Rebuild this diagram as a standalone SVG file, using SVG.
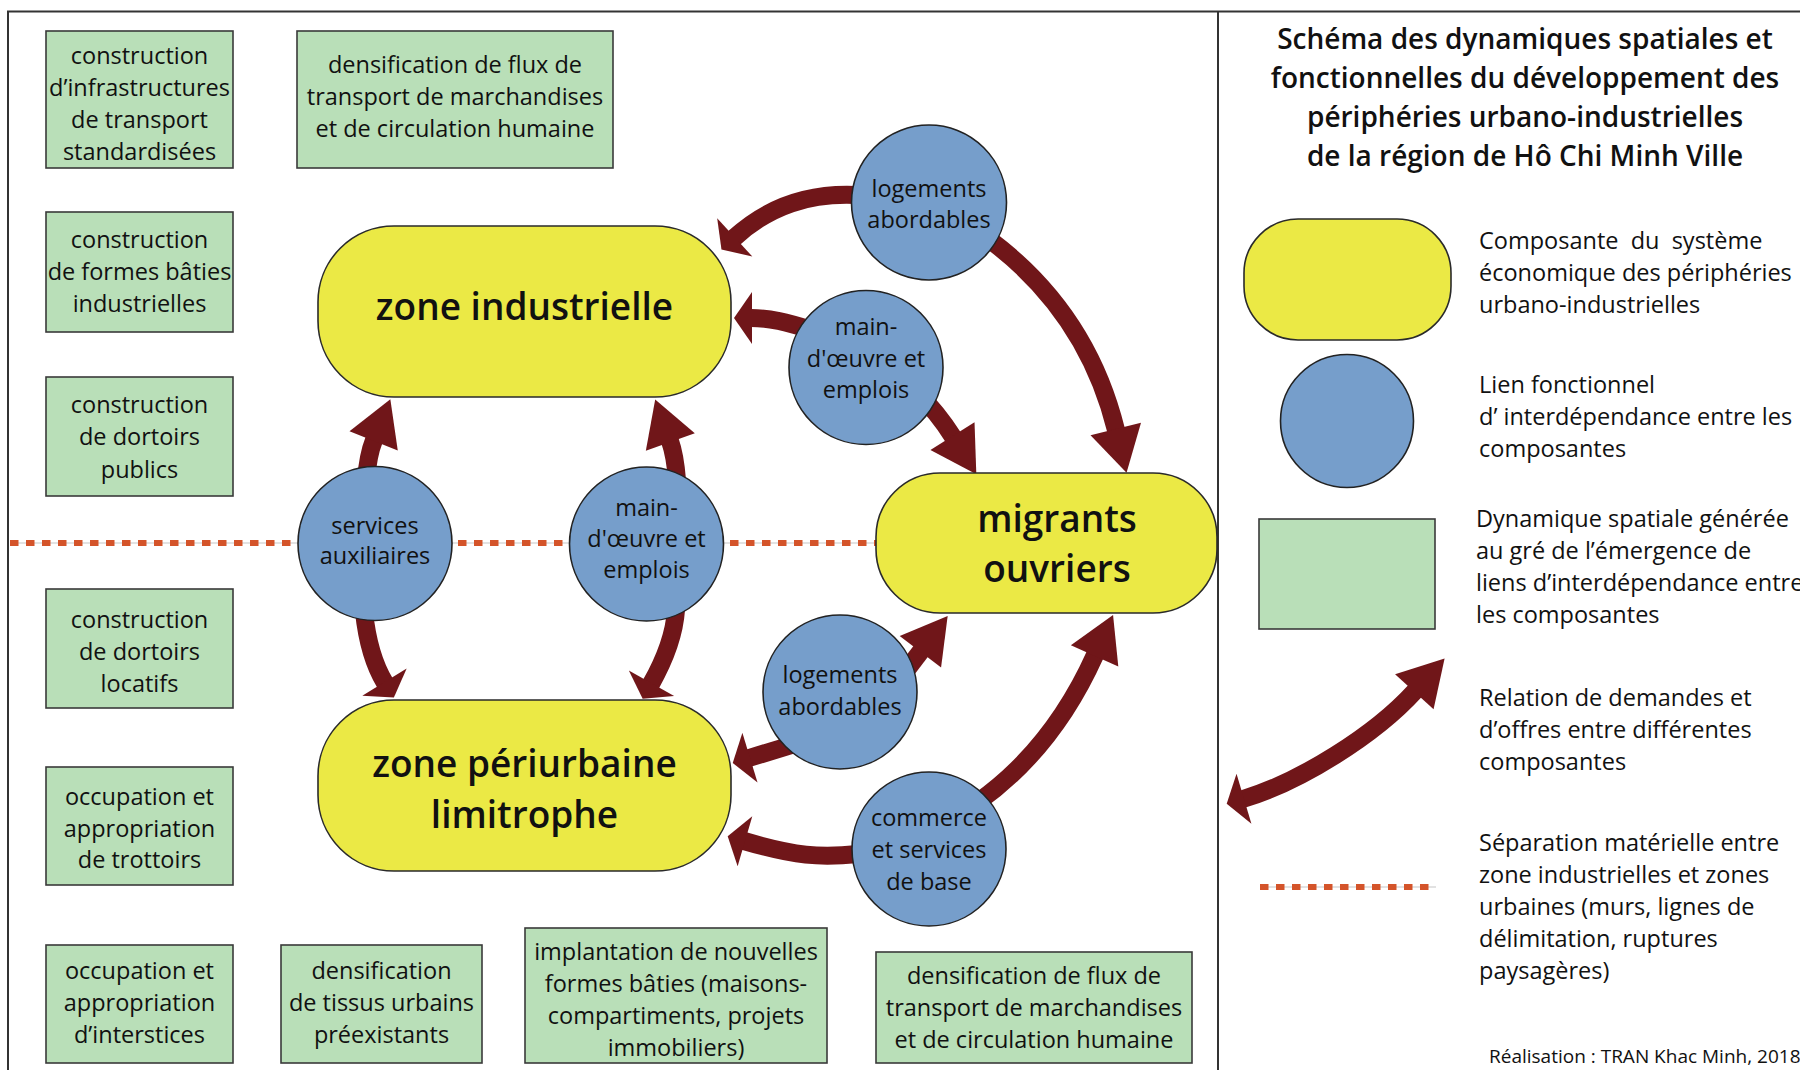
<svg xmlns="http://www.w3.org/2000/svg" width="1800" height="1070" viewBox="0 0 1800 1070">
<style>
.t{font-family:"Open Sans","Noto Sans","Liberation Sans",sans-serif;font-size:23.5px;fill:#111;text-anchor:middle}
.big{font-weight:600;font-size:37px}
.title{font-weight:600;font-size:28px}
.leg{text-anchor:start}
.box{fill:#b9dfb8;stroke:#3a3a3a;stroke-width:1.6}
.zone{fill:#ebe945;stroke:#2a2a2a;stroke-width:1.6}
.link{fill:#769ecb;stroke:#222;stroke-width:1.6}
.arr{fill:none;stroke:#701619;stroke-width:18}
.sepbg{stroke:#e2e2e2;stroke-width:2}
.sep{stroke:#d4542a;stroke-width:6;stroke-dasharray:8.5 7.5}
.frame{stroke:#333;stroke-width:2;fill:none}
</style>
<defs>
<marker id="hl" markerUnits="userSpaceOnUse" markerWidth="50" markerHeight="56" refX="1" refY="26" orient="auto" overflow="visible"><path d="M0,0 L45,26 L0,52 Z" fill="#701619"/></marker>
<marker id="hs" markerUnits="userSpaceOnUse" markerWidth="22" markerHeight="56" refX="1" refY="26" orient="auto" overflow="visible"><path d="M0,0 L18,26 L0,52 Z" fill="#701619"/></marker>
<marker id="hsr" markerUnits="userSpaceOnUse" markerWidth="22" markerHeight="56" refX="1" refY="26" orient="auto-start-reverse" overflow="visible"><path d="M0,0 L18,26 L0,52 Z" fill="#701619"/></marker>
</defs>
<rect width="1800" height="1070" fill="#fff"/>
<g id="frame">
<path class="frame" d="M8,1070 L8,11.5 L1800,11.5"/>
<path class="frame" d="M1218,11.5 L1218,1070"/>
</g>
<g id="separation">
<line class="sepbg" x1="10" y1="543" x2="876" y2="543"/>
<line class="sep" x1="10" y1="543" x2="876" y2="543"/>
</g>
<g id="connectors">
<path class="arr" d="M856,195 C810,193 770,205 734,238" marker-end="url(#hs)"/>
<path class="arr" d="M812,330 C786,322 770,318 751,318" marker-end="url(#hs)"/>
<path class="arr" d="M990,240 C1050,285 1095,345 1116,430" marker-end="url(#hl)"/>
<path class="arr" d="M915,390 Q938,413 953,437" marker-end="url(#hl)"/>
<path class="arr" d="M366,480 Q368,455 374,440" marker-end="url(#hl)"/>
<path class="arr" d="M677,480 Q675,455 670,441" marker-end="url(#hl)"/>
<path class="arr" d="M364,612 C367,640 374,665 385,683" marker-end="url(#hs)"/>
<path class="arr" d="M676,610 C674,640 660,668 651,684" marker-end="url(#hs)"/>
<path class="arr" d="M905,672 L921,651" marker-end="url(#hl)"/>
<path class="arr" d="M795,744 L749,758" marker-end="url(#hs)"/>
<path class="arr" d="M858,854 C820,858 795,856 744,841" marker-end="url(#hs)"/>
<path class="arr" d="M978,802 C1030,765 1068,715 1095,655" marker-end="url(#hl)"/>
</g>
<g id="zone-industrielle">
<rect class="zone" x="318" y="226" width="413" height="171" rx="76" ry="76"/>
<text class="t big" x="524.5" y="320">zone industrielle</text>
</g>
<g id="zone-periurbaine">
<rect class="zone" x="318" y="700" width="413" height="171" rx="76" ry="76"/>
<text class="t big"><tspan x="524.5" y="777">zone périurbaine</tspan><tspan x="524.5" y="828">limitrophe</tspan></text>
</g>
<g id="migrants-ouvriers">
<rect class="zone" x="876" y="473" width="341" height="140" rx="64" ry="64"/>
<text class="t big"><tspan x="1057" y="532">migrants</tspan><tspan x="1057" y="582">ouvriers</tspan></text>
</g>
<g id="logements-haut">
<circle class="link" cx="929" cy="202.5" r="77.5"/>
<text class="t"><tspan x="929" y="197">logements</tspan><tspan x="929" y="228">abordables</tspan></text>
</g>
<g id="main-oeuvre-haut">
<circle class="link" cx="866" cy="367.5" r="77"/>
<text class="t"><tspan x="866" y="335">main-</tspan><tspan x="866" y="367">d'œuvre et</tspan><tspan x="866" y="398">emplois</tspan></text>
</g>
<g id="services-auxiliaires">
<circle class="link" cx="375" cy="543.5" r="77"/>
<text class="t"><tspan x="375" y="534">services</tspan><tspan x="375" y="564">auxiliaires</tspan></text>
</g>
<g id="main-oeuvre-milieu">
<circle class="link" cx="646.5" cy="544" r="77"/>
<text class="t"><tspan x="646.5" y="516">main-</tspan><tspan x="646.5" y="547">d'œuvre et</tspan><tspan x="646.5" y="578">emplois</tspan></text>
</g>
<g id="logements-bas">
<circle class="link" cx="840" cy="692" r="77"/>
<text class="t"><tspan x="840" y="683">logements</tspan><tspan x="840" y="715">abordables</tspan></text>
</g>
<g id="commerce">
<circle class="link" cx="929" cy="849" r="77"/>
<text class="t"><tspan x="929" y="826">commerce</tspan><tspan x="929" y="858">et services</tspan><tspan x="929" y="890">de base</tspan></text>
</g>
<g id="box-infrastructures">
<rect class="box" x="46" y="31" width="187" height="137"/>
<text class="t"><tspan x="139.5" y="64">construction</tspan><tspan x="139.5" y="96">d’infrastructures</tspan><tspan x="139.5" y="128">de transport</tspan><tspan x="139.5" y="160">standardisées</tspan></text>
</g>
<g id="box-formes-baties">
<rect class="box" x="46" y="212" width="187" height="120"/>
<text class="t"><tspan x="139.5" y="248">construction</tspan><tspan x="139.5" y="280">de formes bâties</tspan><tspan x="139.5" y="312">industrielles</tspan></text>
</g>
<g id="box-dortoirs-publics">
<rect class="box" x="46" y="377" width="187" height="119"/>
<text class="t"><tspan x="139.5" y="413">construction</tspan><tspan x="139.5" y="445">de dortoirs</tspan><tspan x="139.5" y="478">publics</tspan></text>
</g>
<g id="box-dortoirs-locatifs">
<rect class="box" x="46" y="589" width="187" height="119"/>
<text class="t"><tspan x="139.5" y="628">construction</tspan><tspan x="139.5" y="660">de dortoirs</tspan><tspan x="139.5" y="692">locatifs</tspan></text>
</g>
<g id="box-trottoirs">
<rect class="box" x="46" y="767" width="187" height="118"/>
<text class="t"><tspan x="139.5" y="805">occupation et</tspan><tspan x="139.5" y="837">appropriation</tspan><tspan x="139.5" y="868">de trottoirs</tspan></text>
</g>
<g id="box-interstices">
<rect class="box" x="46" y="945" width="187" height="118"/>
<text class="t"><tspan x="139.5" y="979">occupation et</tspan><tspan x="139.5" y="1011">appropriation</tspan><tspan x="139.5" y="1043">d’interstices</tspan></text>
</g>
<g id="box-tissus">
<rect class="box" x="281" y="945" width="201" height="118"/>
<text class="t"><tspan x="381.5" y="979">densification</tspan><tspan x="381.5" y="1011">de tissus urbains</tspan><tspan x="381.5" y="1043">préexistants</tspan></text>
</g>
<g id="box-implantation">
<rect class="box" x="525" y="928" width="302" height="135"/>
<text class="t"><tspan x="676" y="960">implantation de nouvelles</tspan><tspan x="676" y="992">formes bâties (maisons-</tspan><tspan x="676" y="1024">compartiments, projets</tspan><tspan x="676" y="1056">immobiliers)</tspan></text>
</g>
<g id="box-flux-bas">
<rect class="box" x="876" y="952" width="316" height="111"/>
<text class="t"><tspan x="1034" y="984">densification de flux de</tspan><tspan x="1034" y="1016">transport de marchandises</tspan><tspan x="1034" y="1048">et de circulation humaine</tspan></text>
</g>
<g id="box-flux-haut">
<rect class="box" x="297" y="31" width="316" height="137"/>
<text class="t"><tspan x="455" y="73">densification de flux de</tspan><tspan x="455" y="105">transport de marchandises</tspan><tspan x="455" y="137">et de circulation humaine</tspan></text>
</g>
<g id="legend">
<text class="t title"><tspan x="1525" y="49">Schéma des dynamiques spatiales et</tspan><tspan x="1525" y="88">fonctionnelles du développement des</tspan><tspan x="1525" y="127">périphéries urbano-industrielles</tspan><tspan x="1525" y="166">de la région de Hô Chi Minh Ville</tspan></text>
<rect class="zone" x="1244" y="219" width="207" height="121" rx="54" ry="54"/>
<text class="t leg" xml:space="preserve"><tspan x="1479" y="249">Composante  du  système</tspan><tspan x="1479" y="281">économique des périphéries</tspan><tspan x="1479" y="313">urbano-industrielles</tspan></text>
<circle class="link" cx="1347" cy="421" r="66.5"/>
<text class="t leg"><tspan x="1479" y="393">Lien fonctionnel</tspan><tspan x="1479" y="425">d’ interdépendance entre les</tspan><tspan x="1479" y="457">composantes</tspan></text>
<rect class="box" x="1259" y="519" width="176" height="110"/>
<text class="t leg"><tspan x="1476" y="527">Dynamique spatiale générée</tspan><tspan x="1476" y="559">au gré de l’émergence de</tspan><tspan x="1476" y="591">liens d’interdépendance entre</tspan><tspan x="1476" y="623">les composantes</tspan></text>
<path class="arr" d="M1243,799 C1300,782 1375,735 1415,691" marker-start="url(#hsr)" marker-end="url(#hl)"/>
<text class="t leg"><tspan x="1479" y="706">Relation de demandes et</tspan><tspan x="1479" y="738">d’offres entre différentes</tspan><tspan x="1479" y="770">composantes</tspan></text>
<line class="sepbg" x1="1260" y1="887" x2="1436" y2="887"/>
<line class="sep" x1="1260" y1="887" x2="1433" y2="887"/>
<text class="t leg"><tspan x="1479" y="851">Séparation matérielle entre</tspan><tspan x="1479" y="883">zone industrielles et zones</tspan><tspan x="1479" y="915">urbaines (murs, lignes de</tspan><tspan x="1479" y="947">délimitation, ruptures</tspan><tspan x="1479" y="979">paysagères)</tspan></text>
<text class="t leg" x="1489" y="1063" style="font-size:19px">Réalisation : TRAN Khac Minh, 2018</text>
</g>
</svg>
